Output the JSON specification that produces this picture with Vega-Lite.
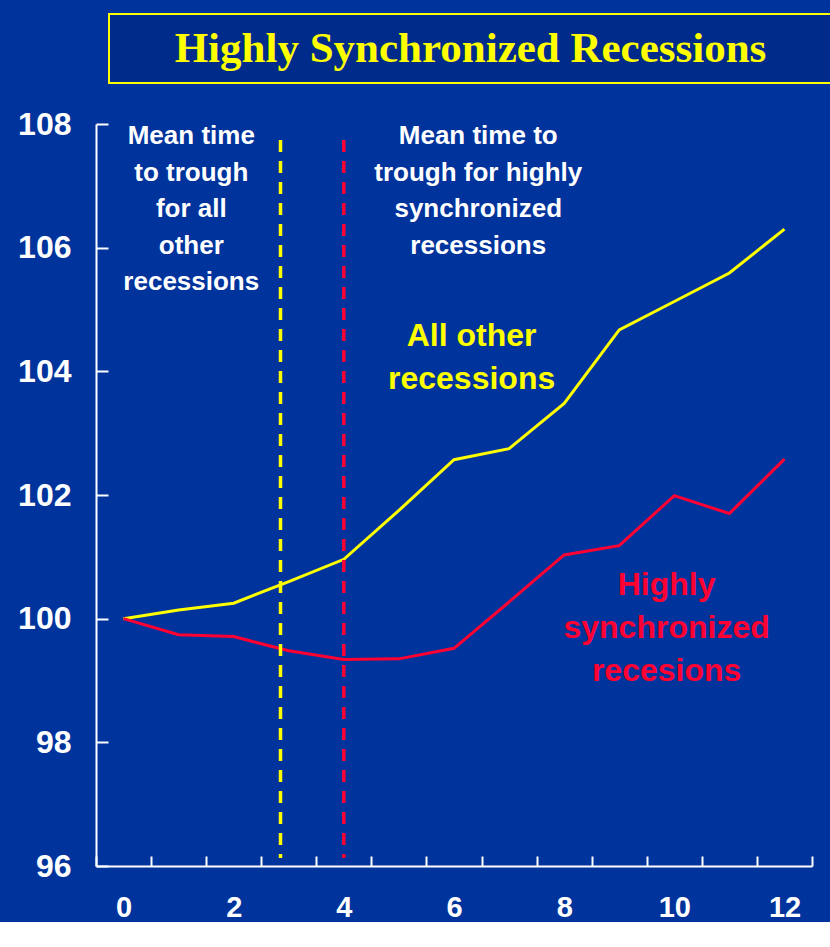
{
  "$schema": "https://vega.github.io/schema/vega-lite/v6.json",
  "background": "#00339c",
  "padding": {"left": 17, "top": 13, "right": 0, "bottom": 0},
  "spacing": 24,
  "config": {"view": {"stroke": null}, "font": "Liberation Sans"},
  "datasets": {
    "paths": [
      {"month": 0, "value": 100.0, "series": "All other recessions"},
      {"month": 1, "value": 100.14, "series": "All other recessions"},
      {"month": 2, "value": 100.25, "series": "All other recessions"},
      {"month": 3, "value": 100.6, "series": "All other recessions"},
      {"month": 4, "value": 100.96, "series": "All other recessions"},
      {"month": 5, "value": 101.75, "series": "All other recessions"},
      {"month": 6, "value": 102.57, "series": "All other recessions"},
      {"month": 7, "value": 102.75, "series": "All other recessions"},
      {"month": 8, "value": 103.48, "series": "All other recessions"},
      {"month": 9, "value": 104.67, "series": "All other recessions"},
      {"month": 10, "value": 105.13, "series": "All other recessions"},
      {"month": 11, "value": 105.59, "series": "All other recessions"},
      {"month": 12, "value": 106.3, "series": "All other recessions"},
      {"month": 0, "value": 100.0, "series": "Highly synchronized recessions"},
      {"month": 1, "value": 99.74, "series": "Highly synchronized recessions"},
      {"month": 2, "value": 99.71, "series": "Highly synchronized recessions"},
      {"month": 3, "value": 99.48, "series": "Highly synchronized recessions"},
      {"month": 4, "value": 99.34, "series": "Highly synchronized recessions"},
      {"month": 5, "value": 99.35, "series": "Highly synchronized recessions"},
      {"month": 6, "value": 99.52, "series": "Highly synchronized recessions"},
      {"month": 7, "value": 100.27, "series": "Highly synchronized recessions"},
      {"month": 8, "value": 101.03, "series": "Highly synchronized recessions"},
      {"month": 9, "value": 101.18, "series": "Highly synchronized recessions"},
      {"month": 10, "value": 101.99, "series": "Highly synchronized recessions"},
      {"month": 11, "value": 101.7, "series": "Highly synchronized recessions"},
      {"month": 12, "value": 102.58, "series": "Highly synchronized recessions"}
    ],
    "troughs": [
      {"month": 2.85, "series": "All other recessions"},
      {"month": 4, "series": "Highly synchronized recessions"}
    ],
    "notes": [
      {"label": "Mean time\nto trough\nfor all\nother\nrecessions", "month": 1.23, "value": 108.01},
      {"label": "Mean time to\ntrough for highly\nsynchronized\nrecessions", "month": 6.44, "value": 108.01}
    ],
    "seriesLabels": [
      {"label": "All other\nrecessions", "series": "All other recessions", "month": 6.32, "value": 104.82},
      {"label": "Highly\nsynchronized\nrecesions", "series": "Highly synchronized recessions", "month": 9.86, "value": 100.78}
    ]
  },
  "vconcat": [
    {
      "bounds": "flush",
      "spacing": 0,
      "hconcat": [
        {
          "width": 13,
          "height": 69,
          "data": {"values": []},
          "mark": "point"
        },
        {
          "width": 723,
          "height": 69,
          "view": {"stroke": "#ffff00", "strokeWidth": 2, "fill": "#002b8a"},
          "data": {"values": [{"heading": "Highly Synchronized Recessions"}]},
          "mark": {"type": "text", "font": "Liberation Serif", "fontWeight": "bold", "fontSize": 43, "fill": "#ffff00", "align": "center", "baseline": "middle"},
          "encoding": {
            "text": {"field": "heading"}
          }
        }
      ]
    },
    {
      "width": 716,
      "height": 742,
      "layer": [
        {
          "data": {"name": "paths"},
          "mark": {"type": "line", "strokeWidth": 3},
          "encoding": {
            "x": {
              "field": "month",
              "type": "quantitative",
              "scale": {"domain": [-0.5, 12.5], "nice": false, "zero": false},
              "axis": {
                "title": null,
                "grid": false,
                "values": [-0.5, 0.5, 1.5, 2.5, 3.5, 4.5, 5.5, 6.5, 7.5, 8.5, 9.5, 10.5, 11.5, 12.5],
                "labelExpr": "datum.value % 2 == 0.5 ? format(datum.value - 0.5, 'd') : ''",
                "labelOffset": -27.5,
                "labelFlush": false,
                "labelOverlap": false,
                "tickSize": -10,
                "tickWidth": 2,
                "tickColor": "#ffffff",
                "domainColor": "#ffffff",
                "domainWidth": 2,
                "labelPadding": 37,
                "labelFont": "Liberation Sans",
                "labelFontWeight": "bold",
                "labelFontSize": 29,
                "labelColor": "#ffffff"
              }
            },
            "y": {
              "field": "value",
              "type": "quantitative",
              "scale": {"domain": [96, 108], "nice": false, "zero": false},
              "axis": {
                "title": null,
                "grid": false,
                "values": [96, 98, 100, 102, 104, 106, 108],
                "format": "d",
                "tickSize": -12,
                "tickWidth": 2,
                "tickColor": "#ffffff",
                "domainColor": "#ffffff",
                "domainWidth": 2,
                "labelPadding": 37,
                "labelFont": "Liberation Sans",
                "labelFontWeight": "bold",
                "labelFontSize": 32,
                "labelColor": "#ffffff"
              }
            },
            "color": {
              "field": "series",
              "type": "nominal",
              "scale": {"domain": ["All other recessions", "Highly synchronized recessions"], "range": ["#ffff00", "#ff0033"]},
              "legend": null
            }
          }
        },
        {
          "data": {"name": "troughs"},
          "mark": {"type": "rule", "strokeWidth": 3.5, "strokeDash": [12, 9]},
          "encoding": {
            "x": {"field": "month", "type": "quantitative"},
            "y": {"datum": 107.74, "type": "quantitative"},
            "y2": {"datum": 96.13},
            "color": {"field": "series", "type": "nominal", "legend": null}
          }
        },
        {
          "data": {"name": "notes"},
          "mark": {"type": "text", "fontSize": 26, "fontWeight": "bold", "font": "Liberation Sans", "fill": "#ffffff", "align": "center", "baseline": "top", "lineBreak": "\n", "lineHeight": 36.5},
          "encoding": {
            "x": {"field": "month", "type": "quantitative"},
            "y": {"field": "value", "type": "quantitative"},
            "text": {"field": "label"}
          }
        },
        {
          "data": {"name": "seriesLabels"},
          "mark": {"type": "text", "fontSize": 32, "fontWeight": "bold", "font": "Liberation Sans", "align": "center", "baseline": "top", "lineBreak": "\n", "lineHeight": 43},
          "encoding": {
            "x": {"field": "month", "type": "quantitative"},
            "y": {"field": "value", "type": "quantitative"},
            "text": {"field": "label"},
            "color": {"field": "series", "type": "nominal", "legend": null}
          }
        }
      ]
    }
  ]
}
